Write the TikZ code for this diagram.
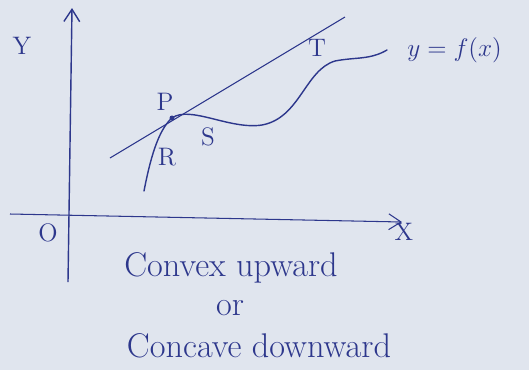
\documentclass[tikz,border=0pt]{standalone}
\usepackage{tikz}
\usetikzlibrary{arrows.meta,positioning}
\definecolor{ink}{RGB}{45,55,140}
\definecolor{paper}{RGB}{224,229,238}

\begin{document}
\begin{tikzpicture}[
  x=0.02cm, y=-0.02cm,
  axis/.style={-{Straight Barb[length=7pt,width=9pt]}, ink, thick},
  curve/.style={ink, thick, line cap=round},
  lbl/.style={text=ink, font=\Large},
  note/.style={text=ink, font=\fontsize{19.5pt}{23pt}\selectfont},
]
% Paper
\fill[paper] (0,0) rectangle (529,370);
\useasboundingbox (0,0) rectangle (529,370);

% Axes
\coordinate (ybot) at (68,282);
\coordinate (ytop) at (72,8);
\coordinate (xleft) at (10,214);
\coordinate (xright) at (402,222);
\draw[axis] (ybot) -- (ytop);
\draw[axis, semithick] (xleft) -- (xright);
\node[lbl] (ylab) at (22,46) {Y};
\node[lbl] (olab) at (48,233) {O};
\node[lbl] (xlab) at (404,232) {X};

% Tangent at P
\coordinate (tstart) at (110,158);
\coordinate (tend) at (345,17);
\draw[ink, semithick] (tstart) -- (tend);

% y = f(x)
\coordinate (P) at (172,118);
\coordinate (cend) at (387,50);
\draw[curve] (144,191) .. controls (150,160) and (158,130) .. (P)
  .. controls (190,105) and (230,130) .. (262,125)
  .. controls (300,118) and (305,70) .. (335,61)
  .. controls (355,57) and (370,60) .. (cend);
\fill[ink] (P) circle (2.5);

% Labels
\node[lbl] (plab) at (165,102) {P};
\node[lbl] (rlab) at (167,157) {R};
\node[lbl] (slab) at (208,137) {S};
\node[lbl] (tlab) at (317,48) {T};
\node[lbl, right=8pt of cend] (flab) {$y=f(x)$};

% Caption
\node[note] (cvx) at (231,268) {Convex upward};
\node[note] (orlab) at (230,308) {or};
\node[note] (ccv) at (259,346) {Concave downward};
\end{tikzpicture}
\end{document}
